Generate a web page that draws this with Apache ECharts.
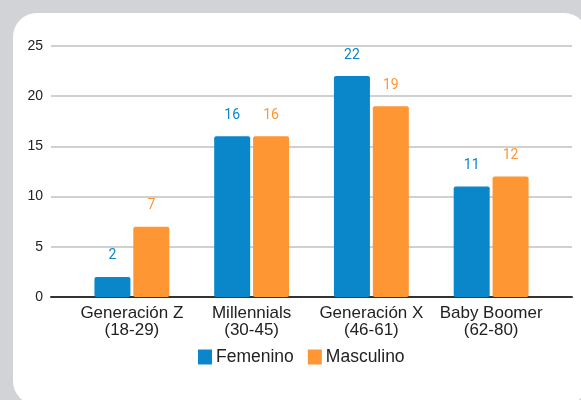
<!DOCTYPE html>
<html><head><meta charset="utf-8">
<script src="https://cdn.jsdelivr.net/npm/echarts@6/dist/echarts.min.js"></script>
<style>
html,body{margin:0;padding:0;background:#d1d3d7;width:581px;height:400px;overflow:hidden;}
#card{position:absolute;left:13px;top:13px;width:575px;height:392px;background:#fff;border-radius:24px;}
#chart{position:absolute;left:0;top:0;width:581px;height:400px;}
</style></head>
<body><div id="card"></div><div id="chart"></div>
<script>
const categories = ['Generación Z\n(18-29)', 'Millennials\n(30-45)', 'Generación X\n(46-61)', 'Baby Boomer\n(62-80)'];
const femenino = [2, 16, 22, 11];
const masculino = [7, 16, 19, 12];
const seriesNames = ['Femenino', 'Masculino'];
const yTicks = [0, 5, 10, 15, 20, 25];

const BLUE = '#0a87cb', ORANGE = '#fd9633';
const chart = echarts.init(document.getElementById('chart'), null, {renderer: 'canvas'});
const labelStyle = (c) => ({show: true, position: 'top', distance: 14, color: c, fontSize: 14, fontFamily: 'Roboto'});
chart.setOption({
  animation: false,
  grid: [
    {left: 51, right: 9, top: 46, bottom: 103},
    {left: 72, right: 30, top: 46, bottom: 103}
  ],
  xAxis: [
    {gridIndex: 0, type: 'value', min: 0, max: 1, axisLine: {show: true, lineStyle: {color: '#333', width: 2}},
     axisLabel: {show: false}, axisTick: {show: false}, splitLine: {show: false}},
    {gridIndex: 1, type: 'category', data: categories,
     axisLine: {show: false}, axisTick: {show: false},
     axisLabel: {interval: 0, color: '#222', fontSize: 17, lineHeight: 17, fontFamily: 'Liberation Sans', margin: 8}}
  ],
  yAxis: [
    {gridIndex: 0, type: 'value', min: yTicks[0], max: yTicks[yTicks.length - 1], interval: 5,
     axisLine: {show: false}, axisTick: {show: false},
     axisLabel: {color: '#222', fontSize: 14, fontFamily: 'Liberation Sans', margin: 8},
     splitLine: {lineStyle: {color: '#d0d0d0', width: 2}}},
    {gridIndex: 1, type: 'value', min: yTicks[0], max: yTicks[yTicks.length - 1], interval: 5, show: false}
  ],
  legend: {
    left: 193, top: 343, itemWidth: 14, itemHeight: 15, itemGap: 14,
    icon: 'rect',
    textStyle: {color: '#222', fontSize: 17.5, fontFamily: 'Liberation Sans', padding: [0, 0, 0, -1]},
    data: seriesNames
  },
  series: [
    {name: seriesNames[0], type: 'bar', xAxisIndex: 1, yAxisIndex: 1, data: femenino, barWidth: 36, barGap: '8%',
     itemStyle: {color: BLUE, borderRadius: 2}, label: labelStyle(BLUE)},
    {name: seriesNames[1], type: 'bar', xAxisIndex: 1, yAxisIndex: 1, data: masculino, barWidth: 36, barGap: '8%',
     itemStyle: {color: ORANGE, borderRadius: 2}, label: labelStyle(ORANGE)}
  ]
});
</script></body></html>
